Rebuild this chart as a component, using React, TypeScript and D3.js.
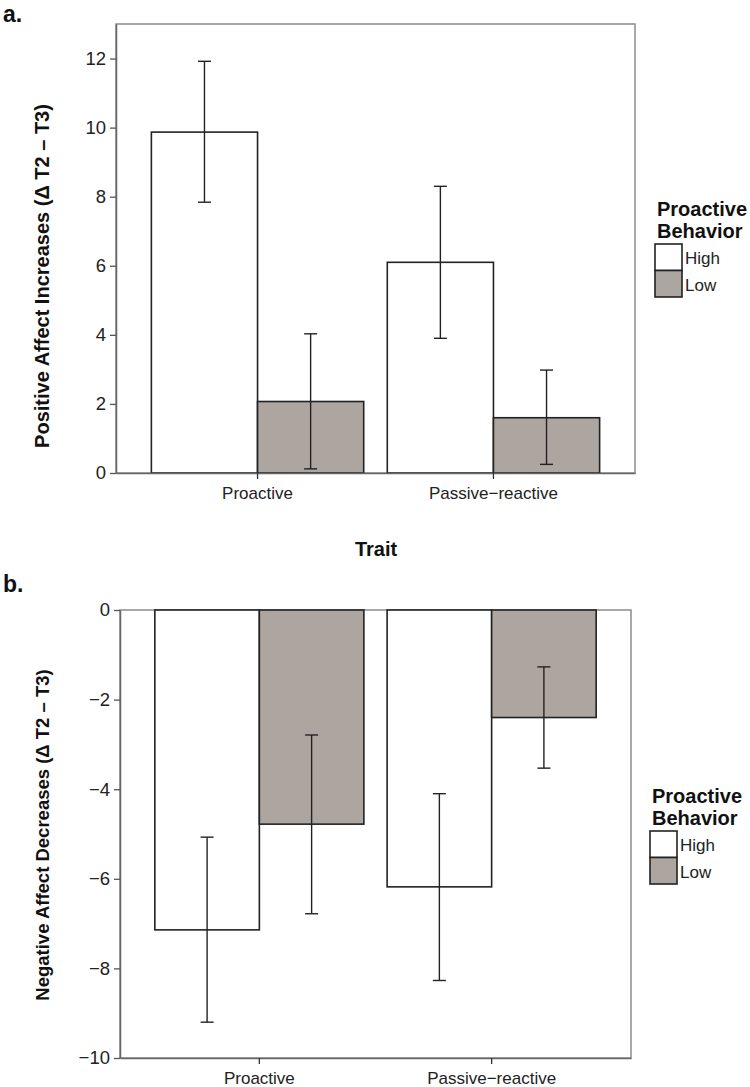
import React, { useEffect, useRef } from 'react';
import * as d3 from 'd3';

// categories
const traits = ['Proactive', 'Passive\u2212reactive'];
const behaviors = ['High', 'Low'];

// panel a: positive affect increases (mean, lower and upper error bar)
const posHighMean = [9.87, 6.1];
const posHighLower = [7.84, 3.9];
const posHighUpper = [11.92, 8.3];
const posLowMean = [2.07, 1.6];
const posLowLower = [0.12, 0.25];
const posLowUpper = [4.03, 2.98];

// panel b: negative affect decreases
const negHighMean = [-7.14, -6.18];
const negHighLower = [-9.2, -8.27];
const negHighUpper = [-5.07, -4.1];
const negLowMean = [-4.78, -2.4];
const negLowLower = [-6.78, -3.53];
const negLowUpper = [-2.79, -1.27];

const posTicks = [0, 2, 4, 6, 8, 10, 12];
const negTicks = [-10, -8, -6, -4, -2, 0];

const fillColor: Record<string, string> = { High: '#ffffff', Low: '#ada59f' };
const FONT = '"Liberation Sans", Arial, sans-serif';

interface Bar {
  trait: string;
  behavior: string;
  mean: number;
  lower: number;
  upper: number;
}

const buildBars = (
  highMean: number[], highLower: number[], highUpper: number[],
  lowMean: number[], lowLower: number[], lowUpper: number[]
): Bar[] =>
  traits.flatMap((t, i) => [
    { trait: t, behavior: 'High', mean: highMean[i], lower: highLower[i], upper: highUpper[i] },
    { trait: t, behavior: 'Low', mean: lowMean[i], lower: lowLower[i], upper: lowUpper[i] },
  ]);

interface PanelSpec {
  letter: string;
  letterY: number;
  bars: Bar[];
  domain: [number, number];
  ticks: number[];
  left: number;
  right: number;
  top: number;
  bottom: number;
  yLabel: string;
  yLabelX: number;
  yLabelY: number;
  yLabelSize: number;
  legendX: number;
  legendY: number;
}

const App: React.FC = () => {
  const svgRef = useRef<SVGSVGElement>(null);

  useEffect(() => {
    if (!svgRef.current) return;
    document.body.style.margin = '0';
    const svg = d3.select(svgRef.current);
    svg.selectAll('*').remove();

    const panels: PanelSpec[] = [
      {
        letter: 'a.', letterY: 22,
        bars: buildBars(posHighMean, posHighLower, posHighUpper, posLowMean, posLowLower, posLowUpper),
        domain: [0, 13], ticks: posTicks,
        left: 116, right: 635, top: 24, bottom: 473,
        yLabel: 'Positive Affect Increases (\u0394 T2 \u2013 T3)', yLabelX: 42, yLabelY: 276, yLabelSize: 20,
        legendX: 655, legendY: 216,
      },
      {
        letter: 'b.', letterY: 592,
        bars: buildBars(negHighMean, negHighLower, negHighUpper, negLowMean, negLowLower, negLowUpper),
        domain: [-10, 0], ticks: negTicks,
        left: 120, right: 631, top: 610, bottom: 1058,
        yLabel: 'Negative Affect Decreases (\u0394 T2 \u2013 T3)', yLabelX: 43, yLabelY: 835, yLabelSize: 18.5,
        legendX: 650, legendY: 803,
      },
    ];

    panels.forEach(p => {
      const g = svg.append('g');

      const x = d3.scaleBand<string>()
        .domain(traits)
        .range([p.left, p.right])
        .paddingInner(0.1)
        .paddingOuter(0.15);
      const xSub = d3.scaleBand<string>()
        .domain(behaviors)
        .range([0, x.bandwidth()]);
      const y = d3.scaleLinear().domain(p.domain).range([p.bottom, p.top]);

      // panel letter
      g.append('text')
        .attr('x', 3)
        .attr('y', p.letterY)
        .style('font-family', FONT)
        .style('font-weight', 'bold')
        .style('font-size', '23px')
        .attr('fill', '#111')
        .text(p.letter);

      // frame
      g.append('rect')
        .attr('x', p.left)
        .attr('y', p.top)
        .attr('width', p.right - p.left)
        .attr('height', p.bottom - p.top)
        .attr('fill', 'none')
        .attr('stroke', '#8c8c8c')
        .attr('stroke-width', 1.5);

      // bars
      const zero = y(0);
      g.selectAll('rect.bar')
        .data(p.bars)
        .enter().append('rect')
        .attr('class', 'bar')
        .attr('x', d => (x(d.trait) || 0) + (xSub(d.behavior) || 0))
        .attr('y', d => Math.min(y(d.mean), zero))
        .attr('width', xSub.bandwidth())
        .attr('height', d => Math.abs(y(d.mean) - zero))
        .attr('fill', d => fillColor[d.behavior])
        .attr('stroke', '#222')
        .attr('stroke-width', 1.6);

      // error bars
      const cx = (d: Bar) => (x(d.trait) || 0) + (xSub(d.behavior) || 0) + xSub.bandwidth() / 2;
      const err = g.selectAll('g.err')
        .data(p.bars)
        .enter().append('g')
        .attr('class', 'err')
        .attr('stroke', '#222')
        .attr('stroke-width', 1.4);
      err.append('line')
        .attr('x1', cx).attr('x2', cx)
        .attr('y1', d => y(d.lower)).attr('y2', d => y(d.upper));
      err.append('line')
        .attr('x1', d => cx(d) - 6.5).attr('x2', d => cx(d) + 6.5)
        .attr('y1', d => y(d.lower)).attr('y2', d => y(d.lower));
      err.append('line')
        .attr('x1', d => cx(d) - 6.5).attr('x2', d => cx(d) + 6.5)
        .attr('y1', d => y(d.upper)).attr('y2', d => y(d.upper));

      // y axis
      const yAxis = g.append('g')
        .attr('transform', `translate(${p.left},0)`)
        .call(d3.axisLeft(y).tickValues(p.ticks).tickSize(6).tickPadding(4).tickSizeOuter(0));
      yAxis.select('.domain').attr('stroke', '#666').attr('stroke-width', 1.5);
      yAxis.selectAll('.tick line').attr('stroke', '#555').attr('stroke-width', 1.3);
      yAxis.selectAll('.tick text')
        .style('font-family', FONT)
        .style('font-size', '18.5px')
        .attr('fill', '#222');

      // x axis
      const xAxis = g.append('g')
        .attr('transform', `translate(0,${p.bottom})`)
        .call(d3.axisBottom(x).tickSize(6).tickPadding(8).tickSizeOuter(0));
      xAxis.select('.domain').attr('stroke', '#666').attr('stroke-width', 1.5);
      xAxis.selectAll('.tick line').attr('stroke', '#333').attr('stroke-width', 1.3);
      xAxis.selectAll('.tick text')
        .style('font-family', FONT)
        .style('font-size', '17px')
        .attr('fill', '#222');

      // y axis label
      g.append('text')
        .attr('transform', `translate(${p.yLabelX},${p.yLabelY}) rotate(-90)`)
        .attr('text-anchor', 'middle')
        .attr('dy', '0.35em')
        .style('font-family', FONT)
        .style('font-weight', 'bold')
        .style('font-size', `${p.yLabelSize}px`)
        .attr('fill', '#111')
        .text(p.yLabel);

      // legend
      const legend = g.append('g').attr('transform', `translate(${p.legendX},${p.legendY})`);
      ['Proactive', 'Behavior'].forEach((line, i) => {
        legend.append('text')
          .attr('x', 2)
          .attr('y', i * 22)
          .style('font-family', FONT)
          .style('font-weight', 'bold')
          .style('font-size', '20px')
          .attr('fill', '#111')
          .text(line);
      });
      behaviors.forEach((b, i) => {
        legend.append('rect')
          .attr('x', 0)
          .attr('y', 28 + i * 26.5)
          .attr('width', 27)
          .attr('height', 26.5)
          .attr('fill', fillColor[b])
          .attr('stroke', '#222')
          .attr('stroke-width', 1.6);
        legend.append('text')
          .attr('x', 30)
          .attr('y', 28 + i * 26.5 + 20)
          .style('font-family', FONT)
          .style('font-size', '17px')
          .attr('fill', '#222')
          .text(b);
      });
    });

    // shared x axis title between panels
    svg.append('text')
      .attr('x', 376)
      .attr('y', 556)
      .attr('text-anchor', 'middle')
      .style('font-family', FONT)
      .style('font-weight', 'bold')
      .style('font-size', '20px')
      .attr('fill', '#111')
      .text('Trait');
  }, []);

  return <svg ref={svgRef} width={750} height={1087} style={{ display: 'block', background: '#fff' }}></svg>;
};

export default App;
